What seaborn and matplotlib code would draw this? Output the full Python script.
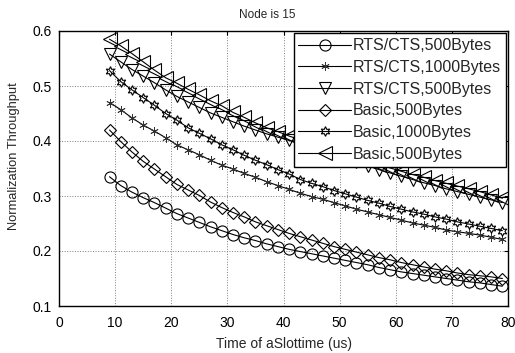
import matplotlib
matplotlib.use("Agg")
import matplotlib.pyplot as plt
import seaborn as sns

# ---- data ----
slot_time = [9, 11, 13, 15, 17, 19, 21, 23, 25, 27, 29, 31, 33, 35, 37, 39, 41, 43,
             45, 47, 49, 51, 53, 55, 57, 59, 61, 63, 65, 67, 69, 71, 73, 75, 77, 79]

rts_500 = [0.335, 0.319, 0.307, 0.297, 0.288, 0.278, 0.268, 0.260, 0.252, 0.244,
           0.237, 0.230, 0.224, 0.219, 0.213, 0.208, 0.203, 0.199, 0.195, 0.191,
           0.187, 0.183, 0.179, 0.175, 0.170, 0.166, 0.162, 0.159, 0.156, 0.153,
           0.150, 0.147, 0.144, 0.142, 0.139, 0.136]

rts_1000 = [0.470, 0.457, 0.442, 0.429, 0.418, 0.406, 0.393, 0.384, 0.375, 0.365,
            0.356, 0.349, 0.341, 0.334, 0.326, 0.319, 0.312, 0.305, 0.299, 0.294,
            0.288, 0.282, 0.276, 0.271, 0.266, 0.261, 0.256, 0.251, 0.247, 0.243,
            0.238, 0.235, 0.232, 0.229, 0.225, 0.221]

rts_500_b = [0.558, 0.544, 0.530, 0.518, 0.506, 0.493, 0.481, 0.471, 0.461, 0.451,
             0.443, 0.435, 0.427, 0.420, 0.413, 0.407, 0.401, 0.395, 0.389, 0.383,
             0.377, 0.371, 0.362, 0.355, 0.348, 0.342, 0.336, 0.330, 0.324, 0.319,
             0.313, 0.308, 0.303, 0.298, 0.293, 0.288]

basic_500 = [0.420, 0.399, 0.380, 0.363, 0.349, 0.335, 0.321, 0.311, 0.301, 0.289,
             0.279, 0.270, 0.262, 0.253, 0.246, 0.239, 0.232, 0.226, 0.220, 0.214,
             0.208, 0.203, 0.198, 0.193, 0.188, 0.184, 0.179, 0.175, 0.171, 0.167,
             0.164, 0.160, 0.157, 0.155, 0.153, 0.150]

basic_1000 = [0.528, 0.508, 0.493, 0.479, 0.465, 0.450, 0.438, 0.424, 0.414, 0.404,
              0.393, 0.384, 0.374, 0.365, 0.357, 0.348, 0.340, 0.330, 0.323, 0.317,
              0.310, 0.304, 0.298, 0.292, 0.287, 0.281, 0.276, 0.271, 0.267, 0.262,
              0.258, 0.253, 0.249, 0.245, 0.241, 0.237]

basic_500_b = [0.585, 0.573, 0.559, 0.544, 0.529, 0.515, 0.505, 0.494, 0.484, 0.473,
               0.464, 0.452, 0.443, 0.433, 0.424, 0.417, 0.409, 0.402, 0.395, 0.388,
               0.381, 0.375, 0.369, 0.363, 0.357, 0.351, 0.345, 0.339, 0.334, 0.328,
               0.323, 0.318, 0.313, 0.308, 0.302, 0.296]

labels = ["RTS/CTS,500Bytes", "RTS/CTS,1000Bytes", "RTS/CTS,500Bytes",
          "Basic,500Bytes", "Basic,1000Bytes", "Basic,500Bytes"]
series = [rts_500, rts_1000, rts_500_b, basic_500, basic_1000, basic_500_b]

x_ticks = [0, 10, 20, 30, 40, 50, 60, 70, 80]
y_ticks = [0.1, 0.2, 0.3, 0.4, 0.5, 0.6]

# ---- style ----
sns.set_theme(style="white")
plt.rcParams["font.family"] = ["Liberation Sans", "DejaVu Sans"]

markers = ["o", (6, 2, 0), "v", "D", (6, 1, 0), "<"]
msizes = [8, 6, 9, 6.5, 7, 10]
medgew = [0.8, 0.6, 0.8, 0.8, 0.8, 0.8]
medgec = ["black", "#333333", "black", "black", "black", "black"]

fig = plt.figure(figsize=(5.15, 3.53), dpi=100)
ax = fig.add_axes([59 / 515, 1 - 306 / 353, (508 - 59) / 515, (306 - 31) / 353])

for lab, vals, mk, ms, mew, mec in zip(labels, series, markers, msizes, medgew, medgec):
    sns.lineplot(x=slot_time, y=vals, ax=ax, label=lab, color="black",
                 marker=mk, markersize=ms, markerfacecolor="none",
                 markeredgecolor=mec, markeredgewidth=mew, linewidth=0.8,
                 errorbar=None)

ax.set_xlim(0, 80)
ax.set_ylim(0.1, 0.6)
ax.set_xticks(x_ticks)
ax.set_yticks(y_ticks)
ax.set_xticklabels([str(t) for t in x_ticks])
ax.set_yticklabels([f"{t:.1f}" for t in y_ticks])
ax.tick_params(direction="in", length=3, width=0.8, top=True, right=True,
               labelsize=10, colors="black")
ax.tick_params(axis="x", pad=7)
ax.tick_params(axis="y", pad=5)
ax.grid(True, linestyle=":", color="#7f7f7f", linewidth=0.7)
for sp in ax.spines.values():
    sp.set_color("black")
    sp.set_linewidth(1.0)

ax.set_title("Node is 15", fontsize=8.5, pad=9, x=0.463)
ax.set_xlabel("Time of aSlottime (us)", fontsize=10, labelpad=5)
ax.set_ylabel("Normalization Throughput", fontsize=9.3)
ax.yaxis.set_label_coords(-0.087, 0.545)

leg = ax.legend(loc="upper right", borderaxespad=0.15, fancybox=False,
                edgecolor="black", framealpha=1, fontsize=11.5, handlelength=3.3,
                labelspacing=0.42, borderpad=0.3, handletextpad=0.1)
leg.get_frame().set_linewidth(1.0)

fig.savefig("out.png", dpi=100)
